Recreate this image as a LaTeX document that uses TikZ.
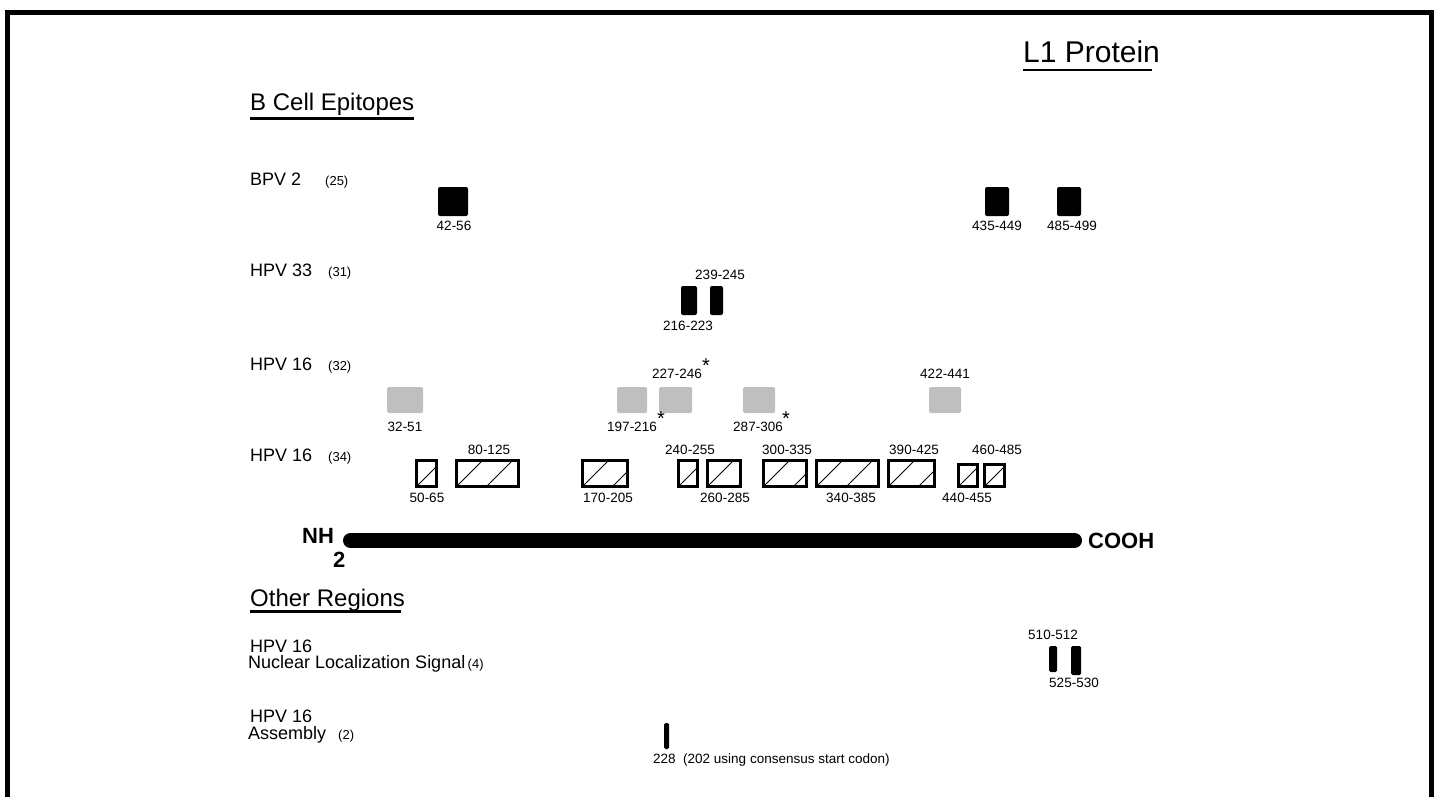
\documentclass[tikz,border=0pt]{standalone}
\usepackage{fontspec}
\setmainfont{Liberation Sans}
\begin{document}
\begin{tikzpicture}[x=1pt,y=-1pt,
  lab/.style={font=\fontsize{13.5}{16}\selectfont, inner sep=0pt, anchor=base},
  rowlab/.style={font=\fontsize{18}{20}\selectfont, inner sep=0pt, anchor=base west},
  refn/.style={font=\fontsize{13}{15}\selectfont, inner sep=0pt, anchor=base west},
  head/.style={font=\fontsize{24}{28}\selectfont, inner sep=0pt, anchor=base west},
  term/.style={font=\bfseries\fontsize{22}{26}\selectfont, inner sep=0pt, anchor=base west},
  star/.style={font=\fontsize{20}{22}\selectfont, inner sep=0pt, anchor=base},
  ul/.style={line width=2.8pt},
  blk/.style={fill=black, draw=none, rounded corners=2pt, inner sep=0pt},
  gry/.style={fill=black!25, draw=none, rounded corners=1.5pt, inner sep=0pt},
  hbox/.style={draw=black, line width=3pt, inner sep=0pt,
    path picture={\foreach \k in {-1,0,1,2,3}{\draw[line width=0.8pt]
      ([xshift=\k*30pt]path picture bounding box.south west) -- ++(45pt,45pt);}}},
]
\newcommand{\lowstar}{\raisebox{-5.5pt}{*}}
\useasboundingbox (0,0) rectangle (1437,797);
% frame
\coordinate (fbl) at (7.5,797);
\coordinate (ftl) at (7.5,12.5);
\coordinate (ftr) at (1431.5,12.5);
\coordinate (fbr) at (1431.5,797);
\draw[line width=5pt] (fbl) -- (ftl) -- (ftr) -- (fbr);

% titles
\node[font=\fontsize{30}{34}\selectfont, inner sep=0pt, anchor=base west] (title) at (1023,63) {L1 Protein};
\draw[ul] ([yshift=-7pt]title.base west) -- ([shift={(-8pt,-7pt)}]title.base east);
\node[head] (bce) at (250,111) {B Cell Epitopes};
\draw[ul] ([yshift=-7.5pt]bce.base west) -- ([yshift=-7.5pt]bce.base east);

% row labels
\node[rowlab] (bpv) at (250,185) {BPV 2};
\node[refn] (r25) at (325,185) {(25)};
\node[rowlab] (h33) at (250,276) {HPV 33};
\node[refn] (r31) at (328,276) {(31)};
\node[rowlab] (h16a) at (250,370) {HPV 16};
\node[refn] (r32) at (328,370) {(32)};
\node[rowlab] (h16b) at (250,461) {HPV 16};
\node[refn] (r34) at (328,461) {(34)};

% BPV 2 epitopes
\node[blk, minimum width=30pt, minimum height=29pt] (e42) at (453,201.5) {};
\node[blk, minimum width=24pt, minimum height=29pt] (e435) at (997,201.5) {};
\node[blk, minimum width=24pt, minimum height=29pt] (e485) at (1069,201.5) {};
\node[lab] (l42) at (454,230) {42-56};
\node[lab] (l435) at (997,230) {435-449};
\node[lab] (l485) at (1072,230) {485-499};

% HPV 33 epitopes
\node[blk, minimum width=16pt, minimum height=29pt] (e216) at (689,300.5) {};
\node[blk, minimum width=13pt, minimum height=29pt] (e239) at (716.5,300.5) {};
\node[lab] (l239) at (720,279) {239-245};
\node[lab] (l216) at (688,330) {216-223};

% HPV 16 (32) epitopes
\node[gry, minimum width=36pt, minimum height=26pt] (g32) at (405,400) {};
\node[gry, minimum width=30pt, minimum height=26pt] (g197) at (632,400) {};
\node[gry, minimum width=33pt, minimum height=26pt] (g227) at (675.5,400) {};
\node[gry, minimum width=32pt, minimum height=26pt] (g287) at (759,400) {};
\node[gry, minimum width=32pt, minimum height=26pt] (g422) at (945,400) {};
\node[lab] (l32) at (405,431) {32-51};
\node[lab] (l197) at (632,431) {197-216};
\node[star] (s197) at (661,420) {\lowstar};
\node[lab] (l227) at (677,378) {227-246};
\node[star] (s227) at (706,367) {\lowstar};
\node[lab] (l287) at (758,431) {287-306};
\node[star] (s287) at (786,420) {\lowstar};
\node[lab] (l422) at (945,378) {422-441};

% HPV 16 (34) epitopes
\node[hbox, minimum width=20pt, minimum height=26pt] (h50) at (426.5,473.5) {};
\node[hbox, minimum width=62pt, minimum height=26pt] (h80) at (487.5,473.5) {};
\node[hbox, minimum width=45pt, minimum height=26pt] (h170) at (605,473.5) {};
\node[hbox, minimum width=19pt, minimum height=26pt] (h240) at (688,473.5) {};
\node[hbox, minimum width=33pt, minimum height=26pt] (h260) at (724,473.5) {};
\node[hbox, minimum width=43pt, minimum height=26pt] (h300) at (785,473.5) {};
\node[hbox, minimum width=62pt, minimum height=26pt] (h340) at (847.5,473.5) {};
\node[hbox, minimum width=46pt, minimum height=26pt] (h390) at (911.5,473.5) {};
\node[hbox, minimum width=19pt, minimum height=22pt] (h440) at (968,475.5) {};
\node[hbox, minimum width=20pt, minimum height=22pt] (h460) at (994.5,475.5) {};
\node[lab] (l80) at (489,454) {80-125};
\node[lab] (l240) at (690,454) {240-255};
\node[lab] (l300) at (787,454) {300-335};
\node[lab] (l390) at (914,454) {390-425};
\node[lab] (l460) at (997,454) {460-485};
\node[lab] (l50) at (427,502) {50-65};
\node[lab] (l170) at (608,502) {170-205};
\node[lab] (l260) at (725,502) {260-285};
\node[lab] (l340) at (851,502) {340-385};
\node[lab] (l440) at (967,502) {440-455};

% protein backbone
\coordinate (nend) at (350.5,540.5);
\coordinate (cend) at (1074.5,540.5);
\draw[line width=15pt, line cap=round] (nend) -- (cend);
\node[term] (nh) at (302,543) {NH};
\node[term] (two) at (333,567) {2};
\node[term] (cooh) at (1088,548) {COOH};

% other regions
\node[head] (oth) at (250,606) {Other Regions};
\draw[line width=2.5pt] ([yshift=-5.5pt]oth.base west) -- ([shift={(-4pt,-5.5pt)}]oth.base east);

\node[rowlab] (nh16) at (250,652) {HPV 16};
\node[rowlab] (nls) at (248,668) {Nuclear Localization Signal};
\node[refn] (r4) at ([xshift=2pt]nls.base east) {(4)};
\node[blk, minimum width=8pt, minimum height=26pt, rounded corners=1.5pt] (n510) at (1053,659) {};
\node[blk, minimum width=10pt, minimum height=29pt, rounded corners=1.5pt] (n525) at (1076,660.5) {};
\node[lab] (l510) at (1053,639) {510-512};
\node[lab] (l525) at (1074,687) {525-530};

\node[rowlab] (as16) at (250,722) {HPV 16};
\node[rowlab] (asm) at (248,739) {Assembly};
\node[refn] (r2) at (338,739) {(2)};
\node[blk, minimum width=5pt, minimum height=26pt, rounded corners=1.5pt] (a228) at (666.5,736) {};
\node[font=\fontsize{13.5}{16}\selectfont, inner sep=0pt, anchor=base west] (l228) at (653,763) {228\ \ (202 using consensus start codon)};
\end{tikzpicture}
\end{document}
